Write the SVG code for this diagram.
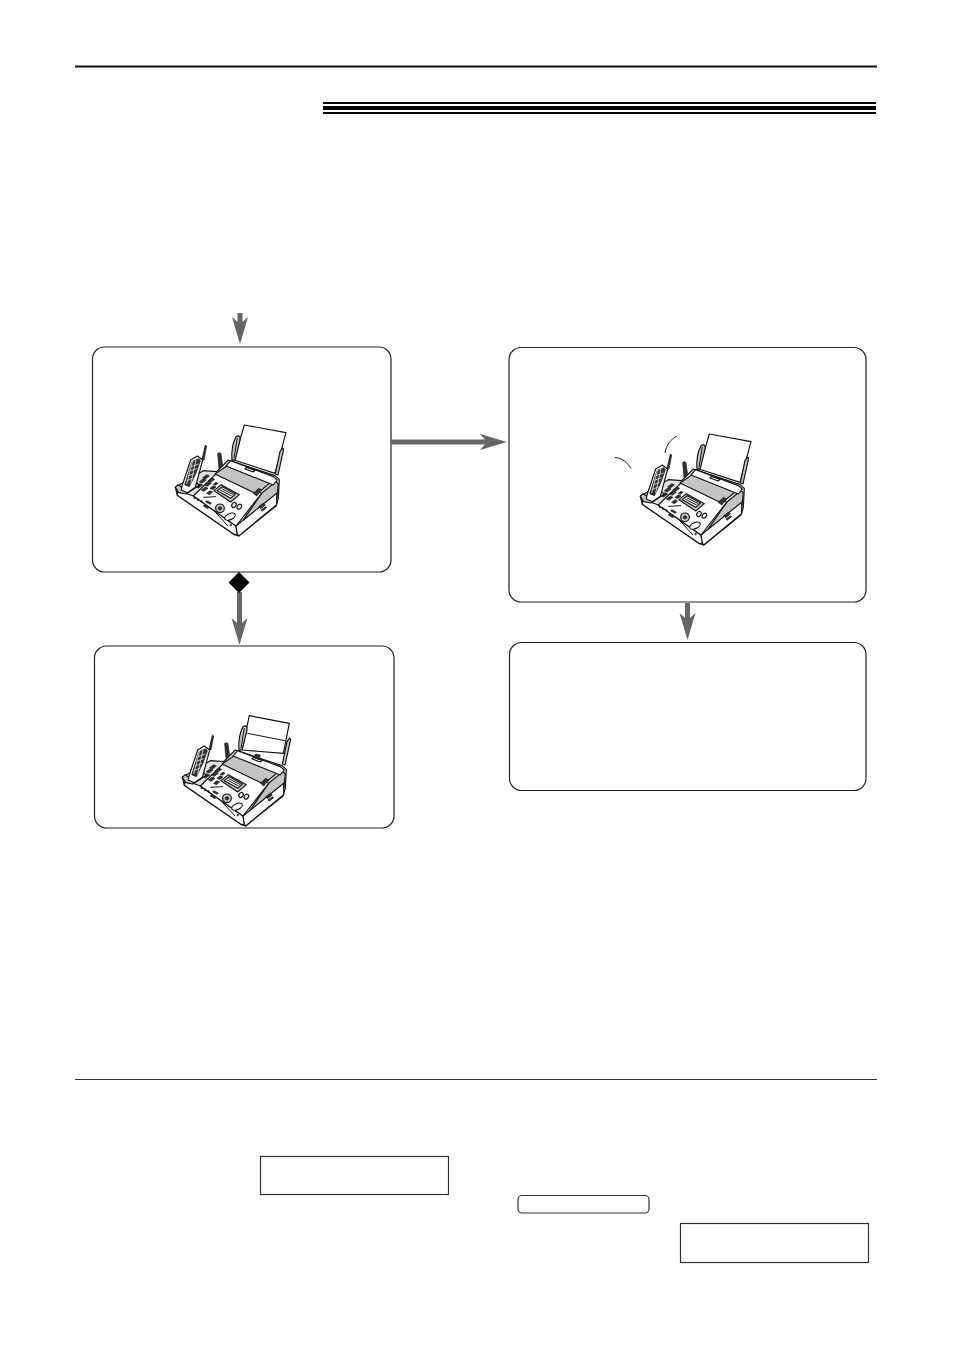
<svg xmlns="http://www.w3.org/2000/svg" xmlns:xlink="http://www.w3.org/1999/xlink" width="954" height="1349" viewBox="0 0 954 1349">
<style>
.box{fill:#fff;stroke:#222;stroke-width:1.2}
.flat{fill:#fff;stroke:#333;stroke-width:1.2}
.conn{fill:none;stroke:#666;stroke-width:5}
.f{fill:#fff;stroke:#111;stroke-width:3.5;stroke-linejoin:round}
.g{fill:#c4c4c4;stroke:#111;stroke-width:3.5;stroke-linejoin:round}
.h{fill:#e2e2e2;stroke:#111;stroke-width:3.5;stroke-linejoin:round}
.d{fill:#333;stroke:#111;stroke-width:2}
.l{fill:none;stroke:#111;stroke-width:3}
</style>
<defs>
<marker id="head" markerUnits="userSpaceOnUse" markerWidth="30" markerHeight="30" refX="7" refY="15" orient="auto">
<path d="M0,7 L27,15 L0,23 L7,15 Z" fill="#666"/>
</marker>
<g id="base">
<path class="g" d="M228,80 C238,74 242,80 240,90 L226,148 L216,152 C214,125 218,98 228,80 Z"/>
<path class="l" d="M232,84 L222,145"/>
<path class="g" d="M360,125 L368,114 L371,118 L354,195 L346,192 Z"/>
<path class="d" d="M173,131 C175,127 181,127 183,131 L190,183 L178,185 Z"/>
<path class="h" d="M46,232 L130,182 L170,185 L205,150 L345,197 L358,208 L355,265 L348,288 L236,378 L224,374 L52,256 Z"/>
<path class="g" d="M305,250 L348,215 L355,222 L350,268 L228,362 Z"/>
<path class="f" d="M52,240 L100,258 L228,348 L232,372 L224,374 L52,256 Z"/>
<path class="f" d="M228,348 L350,250 L350,284 L236,378 L232,372 Z"/>
<path class="f" d="M100,258 L170,190 L305,250 L228,348 Z"/>
<path class="g" d="M165,192 L205,165 L335,215 L290,252 Z"/>
<path class="f" d="M198,168 L212,152 L340,200 L352,210 L340,225 Z"/>
<path class="f" d="M260,172 L285,181 L280,186 L255,177 Z"/>
<path class="d" d="M280,250 L296,235 L305,240 L290,258 Z"/>
<path class="g" d="M162,242 L184,224 L238,254 L212,276 Z"/>
<path class="f" d="M172,242 L187,230 L226,252 L212,265 Z"/>
<path class="l" d="M180,240 L215,258 M185,236 L220,254"/>
<g class="d">
<path d="M118,215l12,-9l8,4l-12,9zM134,225l12,-9l8,4l-12,9zM150,235l10,-8l8,4l-10,8z"/>
<path d="M108,230l12,-9l8,4l-12,9zM124,240l12,-9l8,4l-12,9zM140,250l10,-8l8,4l-10,8z"/>
<path d="M128,203l12,-9l8,4l-12,9zM144,213l12,-9l8,4l-12,9zM160,223l8,-6l6,3l-8,6z"/>
<circle cx="104" cy="264" r="2.500"/><circle cx="114" cy="269" r="2.500"/><circle cx="124" cy="274" r="2.500"/>
<path d="M140,272l14,7l-3,4l-14,-7z"/>
<path d="M133,284l14,8l-3,4l-14,-8z"/>
</g>
<circle class="g" cx="180" cy="295" r="13"/>
<circle class="d" cx="180" cy="295" r="5"/>
<ellipse class="f" cx="222" cy="285" rx="6" ry="8" transform="rotate(35 222 285)"/>
<ellipse class="f" cx="238" cy="290" rx="6" ry="8" transform="rotate(35 238 290)"/>
<ellipse class="f" cx="210" cy="320" rx="17" ry="9" transform="rotate(-25 210 320)"/>
<path class="l" d="M130,262 L168,260 M160,300 L204,348"/>
<path class="d" d="M296,290l14,-10l6,5l-14,11zM303,300l14,-10l3,3l-14,11z"/>
<circle class="d" cx="212" cy="345" r="2.500"/>
<path class="g" d="M46,232 L54,224 L75,238 L110,218 L118,226 L78,252 L56,248 Z"/>
<path class="f" d="M66,228 L92,150 L112,138 L128,150 L106,232 L82,248 L64,240 Z"/>
<path class="d" d="M126,148 L136,105 L140,108 L132,150 Z"/>
<path class="d" d="M96,155 L116,146 L121,152 L108,190 L88,230 L74,224 Z"/>
<path d="M92,170l24,-8M88,184l22,-8M84,198l20,-8M80,212l20,-8M98,152l-18,70M108,150l-16,72" stroke="#ddd" stroke-width="2.500" fill="none"/>
</g>
</defs>

<g id="header">
<rect x="75" y="65.500" width="802" height="2" fill="#111"/>
<rect x="323" y="102" width="553" height="2" fill="#000"/>
<rect x="323" y="106" width="553" height="4" fill="#000"/>
<rect x="323" y="112" width="553" height="2" fill="#000"/>
<rect x="75" y="1079" width="802" height="1" fill="#333"/>
</g>

<g id="node-1">
<rect class="box" x="92.500" y="347" width="298.500" height="225" rx="12"/>
<g transform="translate(160 410) scale(0.3333)">
<path class="f" d="M253,45 L378,68 L345,190 L222,150 Z"/>
<use xlink:href="#base" href="#base"/>
</g>
</g>

<g id="node-2">
<rect class="box" x="509" y="347.500" width="357" height="254.500" rx="12"/>
<g transform="translate(625 419) scale(0.3333)">
<path class="f" d="M253,45 L378,68 L345,190 L222,150 Z"/>
<use xlink:href="#base" href="#base"/>
</g>
<path d="M615,457.500 C622,458 627,462 631,468.500" fill="none" stroke="#222" stroke-width="1"/>
<path d="M677,436 C671,439 666,445 665,453" fill="none" stroke="#222" stroke-width="1"/>
</g>

<g id="node-3">
<rect class="box" x="94.500" y="646" width="299.500" height="182" rx="12"/>
<g transform="translate(167 700) scale(0.3333)">
<path class="f" d="M247,47 L367,70 L349,160 L225,150 Z"/>
<path class="l" d="M241,100 L354,122"/>
<use xlink:href="#base" href="#base"/>
<path class="d" d="M265,162 L280,165 L275,178 L262,172 Z"/>
</g>
</g>

<g id="node-4">
<rect class="box" x="509.500" y="642.500" width="356.500" height="148" rx="12"/>
</g>

<g id="display-1"><rect class="flat" x="260.500" y="1156.500" width="188" height="38"/></g>
<g id="display-2"><rect class="flat" x="680.500" y="1223.500" width="188" height="39"/></g>
<g id="button"><rect class="flat" x="518" y="1195.500" width="131" height="17.500" rx="4"/></g>

<g id="connectors">
<path class="conn" d="M240,313 L240,324" marker-end="url(#head)"/>
<path class="conn" d="M391,442 L487,442" marker-end="url(#head)"/>
<path class="conn" d="M239.500,592 L239.500,625" marker-end="url(#head)"/>
<path class="conn" d="M687.500,603 L687.500,620" marker-end="url(#head)"/>
<path d="M239,572 L249.500,582.500 L239,593 L228.500,582.500 Z" fill="#000"/>
</g>
</svg>
